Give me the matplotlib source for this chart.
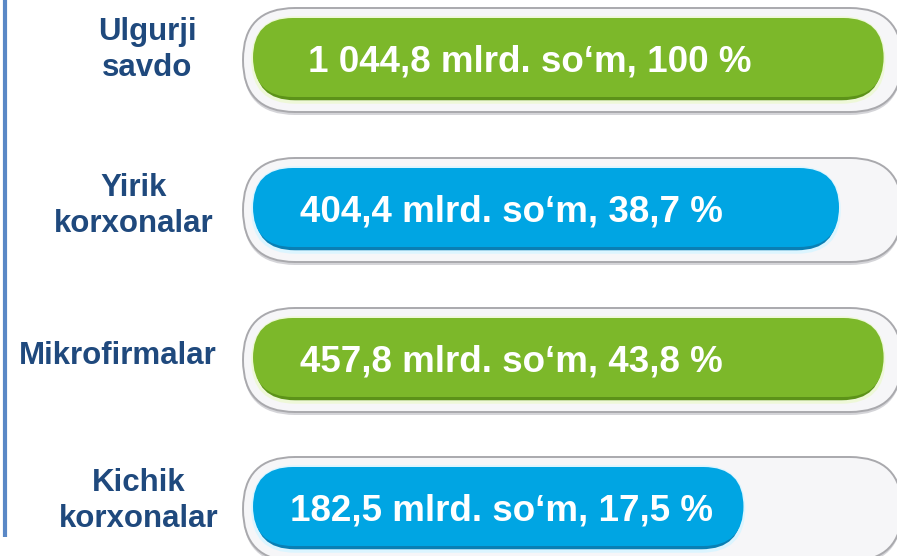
"""
Ulgurji savdo tarkibi - rounded progress-bar style chart
"""
# Imports
import matplotlib
matplotlib.use('Agg')
import matplotlib.pyplot as plt
from matplotlib.patches import FancyBboxPatch

# =======================================================================================
# Data
categories = ['Ulgurji\nsavdo', 'Yirik\nkorxonalar', 'Mikrofirmalar', 'Kichik\nkorxonalar']
amounts = ['1 044,8', '404,4', '457,8', '182,5']          # mlrd. so'm
shares = ['100', '38,7', '43,8', '17,5']                  # %
fill_share = [0.99, 0.92, 0.99, 0.77]                      # visible fill of each track
bar_colors = ['green', 'blue', 'green', 'blue']

# Colours
colors = {
    'green': ('#7cb82a', '#5c9219', '#eef8d8'),   # main, underside, halo
    'blue': ('#00a5e3', '#0a7fb4', '#dcf5ff'),
}
LABEL_C = '#1f497d'
LINE_C = '#5a88c6'

# Layout (pixels, figure is 897 x 556)
W, H = 897, 556
row_y = [60, 210, 360, 509]          # row centres
label_x = [147, 134, 118, 139]       # label centres
label_dy = [-10, -4, -4, -8]
text_x = [308, 300, 300, 290]
track_left, track_right = 243, 902
track_h = 104
bar_inset = 10

FONT = 'Liberation Sans'
LBF = 22.5   # label font
TF = 26.5    # bar text font
# =======================================================================================

fig = plt.figure(1, figsize=(W / 100, H / 100), dpi=100)
ax = fig.add_axes([0, 0, 1, 1])
ax.set_xlim(0, W)
ax.set_ylim(H, 0)
ax.axis('off')

# Left vertical line
ax.plot([5, 5], [0, 537], color=LINE_C, lw=3, solid_capstyle='butt')

for i, yc in enumerate(row_y):
    main_c, dark_c, halo_c = colors[bar_colors[i]]

    # Track (shadow + body)
    top = yc - track_h / 2
    r = track_h / 2
    shadow = FancyBboxPatch((track_left, top + 3), track_right - track_left, track_h,
                            boxstyle=f'round,pad=0,rounding_size={r}',
                            fc='#d4d4d8', ec='none', zorder=1)
    track = FancyBboxPatch((track_left, top), track_right - track_left, track_h,
                           boxstyle=f'round,pad=0,rounding_size={r}',
                           fc='#f6f6f8', ec='#a9a9ad', lw=1.4, zorder=2)
    ax.add_patch(shadow)
    ax.add_patch(track)

    # Coloured fill
    b_left = track_left + bar_inset
    b_right = track_right - 12
    b_w = fill_share[i] * (b_right - b_left)
    b_h = track_h - 2 * bar_inset
    b_top = top + bar_inset
    br = b_h / 2
    under = FancyBboxPatch((b_left, b_top), b_w, b_h,
                           boxstyle=f'round,pad=0,rounding_size={br}',
                           fc=dark_c, ec=halo_c, lw=2.5, zorder=3)
    body = FancyBboxPatch((b_left, b_top), b_w, b_h - 5,
                          boxstyle=f'round,pad=0,rounding_size={br - 2}',
                          fc=main_c, ec='none', zorder=4)
    ax.add_patch(under)
    ax.add_patch(body)

    # Bar text
    ax.text(text_x[i], yc + 2, f'{amounts[i]} mlrd. so\u2018m, {shares[i]} %',
            ha='left', va='center', color='white', fontsize=TF,
            fontweight='bold', family=FONT, zorder=5)

    # Category label
    ax.text(label_x[i], yc + label_dy[i], categories[i], ha='center', va='center',
            color=LABEL_C, fontsize=LBF, fontweight='bold', family=FONT,
            linespacing=1.3, zorder=5)

fig.savefig('out.png', dpi=100, facecolor='white')
